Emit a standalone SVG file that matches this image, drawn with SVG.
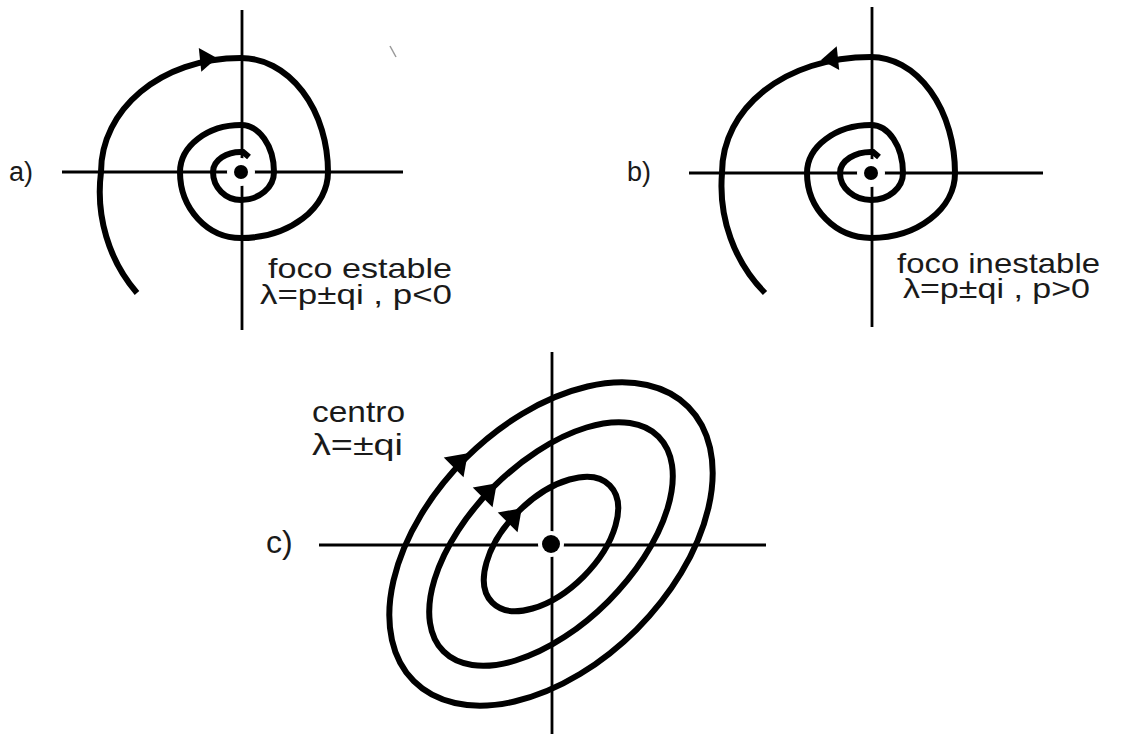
<svg xmlns="http://www.w3.org/2000/svg" xmlns:xlink="http://www.w3.org/1999/xlink" width="1123" height="734" viewBox="0 0 1123 734">
<style>
.axis{stroke:#000;stroke-width:2.8;fill:none}
.traj{stroke:#000;stroke-width:6;fill:none;stroke-linecap:butt}
.halo{fill:#fff}
.dot{fill:#000}
.lbl{font-family:"Liberation Sans",Arial,sans-serif;fill:#1a1a1a}
</style>
<defs>
<path id="ah" d="M9,0 L-8,-12 L-8,12 Z" fill="#000"/>
<path id="ahc" d="M11,0 L-9,-14 L-9,14 Z" fill="#000"/>
</defs>
<rect width="1123" height="734" fill="#fff"/>
<line x1="390" y1="46" x2="396" y2="57" stroke="#999" stroke-width="1.5"/>

<g id="panel-a">
<line class="axis" x1="62" y1="172" x2="403" y2="172"/>
<line class="axis" x1="242" y1="10" x2="242" y2="330"/>
<circle class="halo" cx="241" cy="172" r="14"/>
<path class="traj" d="M137,293 A142,150 0 0 1 101,172 C101,110 160,58 241,58 A87,114 0 0 1 328,172 A87,66 0 0 1 241,238 A61,66 0 0 1 180,172 A61,47 0 0 1 241,125 A33,47 0 0 1 274,172 A33,28 0 0 1 241,200 A28,28 0 0 1 213,172 A28,20 0 0 1 243,152 L249,157"/>
<use xlink:href="#ah" transform="translate(208,59) rotate(-6)"/>
<circle class="dot" cx="241" cy="172" r="7"/>
<text class="lbl" x="9" y="181" font-size="27">a)</text>
<text class="lbl" x="268" y="278" font-size="28" textLength="184" lengthAdjust="spacingAndGlyphs">foco estable</text>
<text class="lbl" x="260" y="304" font-size="28" textLength="192" lengthAdjust="spacingAndGlyphs">λ=p±qi , p&lt;0</text>
</g>

<g id="panel-b">
<line class="axis" x1="689" y1="173" x2="1043" y2="173"/>
<line class="axis" x1="872" y1="7" x2="872" y2="327"/>
<circle class="halo" cx="871" cy="173" r="14"/>
<path class="traj" d="M765,293 A145,150 0 0 1 722,173 C722,108 785,57 871,57 A84,116 0 0 1 955,173 A84,65 0 0 1 871,238 A64,65 0 0 1 807,173 A64,48 0 0 1 871,125 A32,48 0 0 1 903,173 A32,27 0 0 1 871,200 A31,27 0 0 1 840,173 A31,21 0 0 1 873,152 L879,157"/>
<use xlink:href="#ah" transform="translate(830,59) rotate(174)"/>
<circle class="dot" cx="871" cy="173" r="7"/>
<text class="lbl" x="627" y="181" font-size="27">b)</text>
<text class="lbl" x="897" y="273" font-size="28" textLength="203" lengthAdjust="spacingAndGlyphs">foco inestable</text>
<text class="lbl" x="903" y="298" font-size="28" textLength="187" lengthAdjust="spacingAndGlyphs">λ=p±qi , p&gt;0</text>
</g>

<g id="panel-c">
<line class="axis" x1="319" y1="545" x2="766" y2="545"/>
<line class="axis" x1="552" y1="352" x2="552" y2="734"/>
<circle class="halo" cx="551" cy="544" r="13"/>
<g transform="translate(551,544) rotate(-45)">
<ellipse class="traj" cx="0" cy="0" rx="194" ry="121"/>
<ellipse class="traj" cx="0" cy="0" rx="152" ry="81"/>
<ellipse class="traj" cx="0" cy="0" rx="83" ry="46"/>
</g>
<use xlink:href="#ahc" transform="translate(460,461) rotate(-45)"/>
<use xlink:href="#ahc" transform="translate(489,491) rotate(-45)"/>
<use xlink:href="#ahc" transform="translate(514,516) rotate(-45)"/>
<circle class="dot" cx="551" cy="544" r="9"/>
<text class="lbl" x="266" y="553" font-size="32">c)</text>
<text class="lbl" x="312" y="422" font-size="30" textLength="93" lengthAdjust="spacingAndGlyphs">centro</text>
<text class="lbl" x="312" y="455" font-size="30" textLength="91" lengthAdjust="spacingAndGlyphs">λ=±qi</text>
</g>
</svg>
